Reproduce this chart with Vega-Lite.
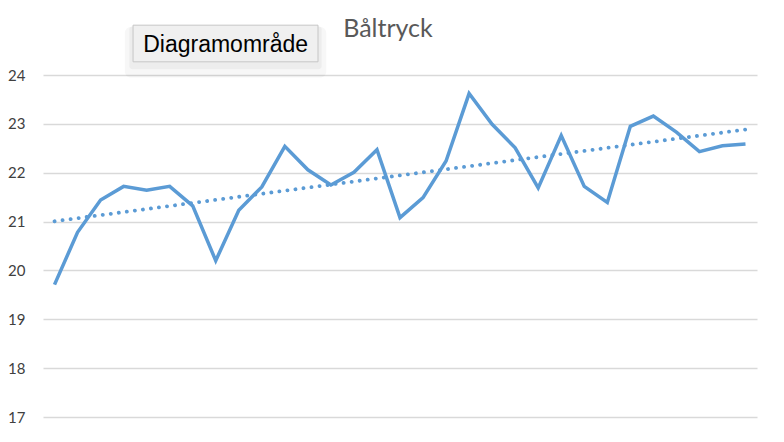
{
  "$schema": "https://vega.github.io/schema/vega-lite/v6.json",
  "width": 714,
  "height": 342,
  "autosize": {"type": "none"},
  "padding": {"left": 43, "top": 75, "right": 27, "bottom": 25},
  "background": "white",
  "title": {
    "text": "Båltryck",
    "font": "Lato",
    "fontSize": 25,
    "fontWeight": "normal",
    "color": "#595959",
    "anchor": "middle",
    "offset": -17,
    "dx": -12
  },
  "config": {"view": {"stroke": null}},
  "datasets": {
    "series": [
      {"i": 1, "v": 19.71}, {"i": 2, "v": 20.78}, {"i": 3, "v": 21.44}, {"i": 4, "v": 21.72},
      {"i": 5, "v": 21.64}, {"i": 6, "v": 21.72}, {"i": 7, "v": 21.32}, {"i": 8, "v": 20.2},
      {"i": 9, "v": 21.23}, {"i": 10, "v": 21.71}, {"i": 11, "v": 22.54}, {"i": 12, "v": 22.06},
      {"i": 13, "v": 21.75}, {"i": 14, "v": 22.01}, {"i": 15, "v": 22.47}, {"i": 16, "v": 21.08},
      {"i": 17, "v": 21.49}, {"i": 18, "v": 22.24}, {"i": 19, "v": 23.62}, {"i": 20, "v": 22.99},
      {"i": 21, "v": 22.51}, {"i": 22, "v": 21.69}, {"i": 23, "v": 22.76}, {"i": 24, "v": 21.72},
      {"i": 25, "v": 21.39}, {"i": 26, "v": 22.95}, {"i": 27, "v": 23.16}, {"i": 28, "v": 22.83},
      {"i": 29, "v": 22.43}, {"i": 30, "v": 22.55}, {"i": 31, "v": 22.59}
    ],
    "box": [{"x1": 4.41, "x2": 12.44, "y1": 25.02, "y2": 24.27, "xm": 8.43, "yt": 24.47, "label": "Diagramområde"}]
  },
  "layer": [
    {
      "data": {"name": "series"},
      "mark": {"type": "line", "color": "#5b9bd5", "strokeWidth": 3.5, "strokeJoin": "miter"},
      "encoding": {
        "x": {"field": "i", "type": "quantitative", "scale": {"domain": [0.5, 31.5], "nice": false, "zero": false}, "axis": null},
        "y": {"field": "v", "type": "quantitative", "scale": {"domain": [17, 24], "nice": false, "zero": false},
          "axis": {"values": [17, 18, 19, 20, 21, 22, 23, 24], "grid": true, "gridColor": "#d9d9d9", "gridWidth": 1.5,
            "domain": false, "ticks": false, "labelPadding": 18, "labelFont": "Lato", "labelFontSize": 15,
            "labelColor": "#404040", "title": null}}
      }
    },
    {
      "data": {"name": "series"},
      "transform": [{"regression": "v", "on": "i", "extent": [1, 31]}],
      "mark": {"type": "line", "color": "#5b9bd5", "strokeWidth": 3.8, "strokeCap": "round", "strokeDash": [0.1, 8]},
      "encoding": {
        "x": {"field": "i", "type": "quantitative"},
        "y": {"field": "v", "type": "quantitative"}
      }
    },
    {
      "data": {"name": "box"},
      "mark": {"type": "rect", "fill": "#000000", "opacity": 0.03, "cornerRadius": 6},
      "encoding": {
        "x": {"datum": 4.05, "type": "quantitative"},
        "x2": {"datum": 12.8},
        "y": {"datum": 24.98, "type": "quantitative"},
        "y2": {"datum": 23.95}
      }
    },
    {
      "data": {"name": "box"},
      "mark": {"type": "rect", "fill": "#000000", "opacity": 0.04, "cornerRadius": 3},
      "encoding": {
        "x": {"datum": 4.25, "type": "quantitative"},
        "x2": {"datum": 12.6},
        "y": {"datum": 25.0, "type": "quantitative"},
        "y2": {"datum": 24.12}
      }
    },
    {
      "data": {"name": "box"},
      "mark": {"type": "rect", "fill": "#f0f0f0", "stroke": "#c6c6c6", "strokeWidth": 1},
      "encoding": {
        "x": {"field": "x1", "type": "quantitative"},
        "x2": {"field": "x2"},
        "y": {"field": "y1", "type": "quantitative"},
        "y2": {"field": "y2"}
      }
    },
    {
      "data": {"name": "box"},
      "mark": {"type": "text", "font": "Liberation Sans", "fontSize": 23, "color": "#000000", "align": "center", "baseline": "alphabetic"},
      "encoding": {
        "x": {"field": "xm", "type": "quantitative"},
        "y": {"field": "yt", "type": "quantitative"},
        "text": {"field": "label"}
      }
    }
  ]
}
